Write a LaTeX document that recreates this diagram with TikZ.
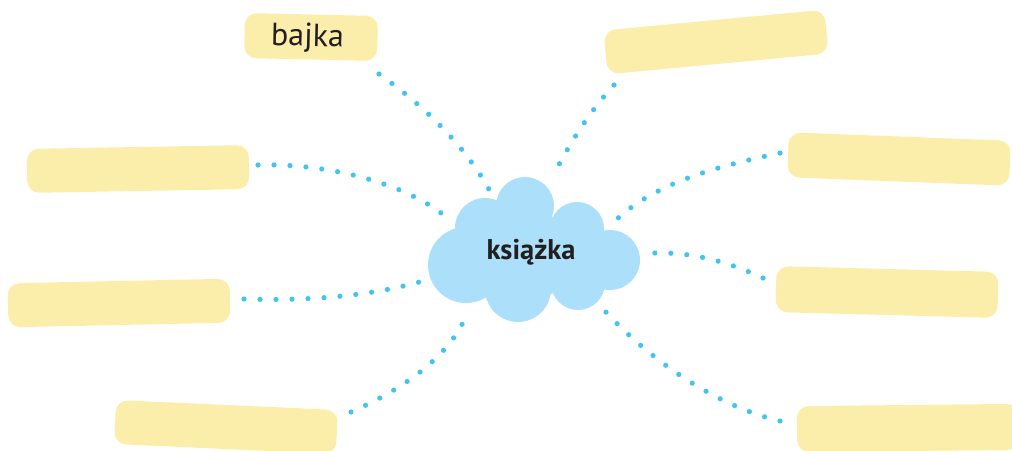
\documentclass[tikz,border=0pt]{standalone}
\usepackage{fontspec}
\setmainfont{PT Sans}
\definecolor{boxyellow}{RGB}{251,237,170}
\definecolor{cloudblue}{RGB}{172,223,249}
\definecolor{dotblue}{RGB}{64,196,242}
\definecolor{txt}{RGB}{35,31,32}
\begin{document}
\begin{tikzpicture}[x=1pt,y=-1pt,
  box/.style={fill=boxyellow,draw=none,rounded corners=12pt,minimum width=222pt,minimum height=44pt,inner sep=0pt,text=txt},
  puff/.style={fill=cloudblue,draw=none},
  dots/.style={draw=dotblue,line width=5.2pt,line cap=round,dash pattern=on 0pt off 16pt}]
\useasboundingbox (0,0) rectangle (1012,450);
\clip (0,0) rectangle (1012,450);
% boxes
\node[box,minimum width=133pt,minimum height=45pt,rotate=-1.3] (b1) at (311,37) {};
\node[font=\fontsize{32}{34}\selectfont,text=txt,rotate=-1.3] (t1) at (307.5,38) {bajka};
\node[box,rotate=5.4] (b2) at (716,42) {};
\node[box,rotate=1] (b3) at (138,169) {};
\node[box,minimum height=45pt,rotate=-2.2] (b4) at (899,159) {};
\node[box,rotate=1.2] (b5) at (119,303) {};
\node[box,minimum height=46pt,rotate=-1.5] (b6) at (887,292) {};
\node[box,rotate=-2.6] (b7) at (226,427) {};
\node[box,minimum height=46pt,rotate=0.6] (b8) at (908,428) {};
% cloud
\fill[puff] (525,206) circle (29);
\fill[puff] (485,228) circle (30);
\fill[puff] (577,229) circle (27);
\fill[puff] (610,260) circle (30);
\fill[puff] (466,265) circle (38);
\fill[puff] (518,289) circle (33);
\fill[puff] (578,283) circle (27);
\fill[puff] (535,255) circle (42);
\node[font=\bfseries\fontsize{28.5}{30}\selectfont,text=txt] (c) at (531,252) {książka};
% connector ends
\coordinate (s1) at (379,74);  \coordinate (e1) at (491,193);
\coordinate (s2) at (614,85);  \coordinate (e2) at (554,174);
\coordinate (s3) at (258,165); \coordinate (e3) at (445,216);
\coordinate (s4) at (780,153); \coordinate (e4) at (617,219);
\coordinate (s5) at (244,299); \coordinate (e5) at (423,281);
\coordinate (s6) at (763,278); \coordinate (e6) at (654,253);
\coordinate (s7) at (351,412); \coordinate (e7) at (467,314);
\coordinate (s8) at (780,421); \coordinate (e8) at (605,311);
% connectors
\draw[dots] (s1) .. controls (424,106) and (465,145) .. (e1);
\draw[dots] (s2) .. controls (590,111) and (570,143) .. (e2);
\draw[dots] (s3) .. controls (320,163) and (400,180) .. (e3);
\draw[dots] (s4) .. controls (724,165) and (659,180.5) .. (e4);
\draw[dots] (s5) .. controls (304,301) and (367,297) .. (e5);
\draw[dots] (s6) .. controls (725.5,260.5) and (690,252) .. (e6);
\draw[dots] (s7) .. controls (397,392) and (448,360) .. (e7);
\draw[dots] (s8) .. controls (721.5,407.5) and (654.5,365) .. (e8);
\end{tikzpicture}
\end{document}
